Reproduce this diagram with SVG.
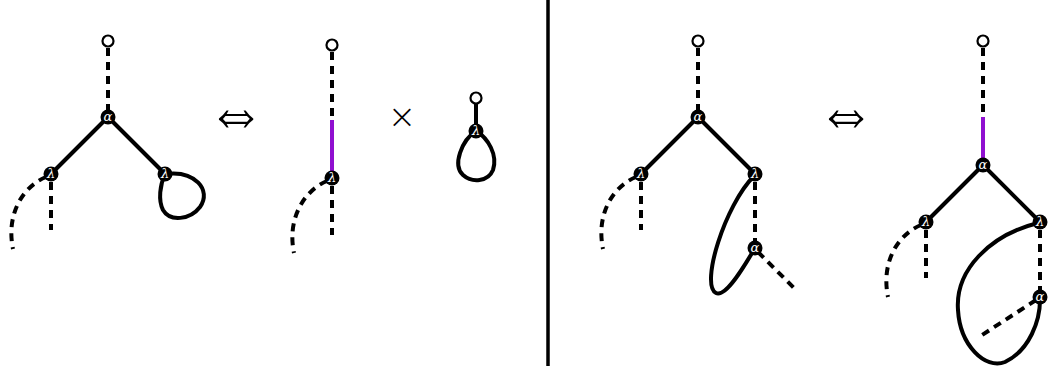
<svg xmlns="http://www.w3.org/2000/svg" width="1050" height="376" viewBox="0 0 1050 376">
<style>
.s{fill:none;stroke:#000;stroke-width:4;stroke-linecap:butt}
.d{fill:none;stroke:#000;stroke-width:4;stroke-dasharray:8 6}
.p{fill:none;stroke:#9010d0;stroke-width:4}
.o{fill:#fff;stroke:#000;stroke-width:2.2}
.n{fill:#000}
.t{fill:#fff;font-family:"DejaVu Serif",serif;font-style:italic;font-size:13px;text-anchor:middle}
.op{font-family:"DejaVu Sans",sans-serif;font-weight:200;text-anchor:middle;fill:#000}
</style>
<rect width="1050" height="376" fill="#fff"/>
<g id="connectors">
  <!-- panel 1 -->
  <line class="d" x1="108" y1="48" x2="108" y2="112"/>
  <line class="s" x1="108" y1="117" x2="51" y2="174"/>
  <line class="s" x1="108" y1="117" x2="165" y2="174"/>
  <line class="d" x1="51" y1="182" x2="51" y2="230"/>
  <path class="d" d="M46,177 C22,187 6,215 13,249"/>
  <path class="s" d="M165,174 C195,170 212,190 200,207 C190,220 170,222 163,210 C158,200 160,185 165,174"/>
  <!-- panel 2 -->
  <line class="d" x1="332" y1="52" x2="332" y2="120"/>
  <line class="p" x1="332" y1="120" x2="332" y2="173"/>
  <line class="d" x1="332" y1="186" x2="332" y2="235"/>
  <path class="d" d="M327,181 C303,191 287,220 294,253"/>
  <line class="s" x1="476" y1="104" x2="476" y2="131"/>
  <path class="s" d="M476,131 C462,140 452,165 463,175 C472,183 488,182 493,170 C498,155 488,138 476,131"/>
  <!-- panel 3 -->
  <line class="d" x1="698" y1="48" x2="698" y2="112"/>
  <line class="s" x1="698" y1="117" x2="641" y2="174"/>
  <line class="s" x1="698" y1="117" x2="755" y2="174"/>
  <line class="d" x1="641" y1="182" x2="641" y2="230"/>
  <path class="d" d="M636,177 C612,187 596,215 603,249"/>
  <line class="d" x1="755" y1="182" x2="755" y2="244"/>
  <path class="s" d="M754,176 C725,205 700,285 716,293 C726,298 745,265 755,248"/>
  <line class="d" x1="758" y1="252" x2="795" y2="289"/>
  <!-- panel 4 -->
  <line class="d" x1="983" y1="48" x2="983" y2="117"/>
  <line class="p" x1="983" y1="117" x2="983" y2="160"/>
  <line class="s" x1="983" y1="165" x2="926" y2="222"/>
  <line class="s" x1="983" y1="165" x2="1040" y2="222"/>
  <line class="d" x1="926" y1="230" x2="926" y2="278"/>
  <path class="d" d="M921,225 C897,235 881,263 888,297"/>
  <line class="d" x1="1040" y1="230" x2="1040" y2="292"/>
  <path class="s" d="M1038,223 C990,235 955,270 958,310 C960,345 985,370 1005,362 C1030,350 1040,320 1040,300"/>
  <line class="d" x1="1036" y1="300" x2="982" y2="335"/>
  <!-- divider -->
  <line x1="548" y1="0" x2="548" y2="366" stroke="#000" stroke-width="3.5"/>
</g>
<g id="ops">
  <text class="op" transform="translate(236,136) scale(1,1.25)" style="font-size:58px">⇔</text>
  <text class="op" x="402" y="128" style="font-size:34px">×</text>
  <text class="op" transform="translate(846,136) scale(1,1.25)" style="font-size:58px">⇔</text>
</g>
<g id="n1r"><circle class="o" cx="108" cy="41" r="5.5"/></g>
<g id="n1a"><circle class="n" cx="108" cy="117" r="7.5"/><text class="t" x="108" y="121">α</text></g>
<g id="n1l"><circle class="n" cx="51" cy="174" r="7.5"/><text class="t" x="51" y="178">λ</text></g>
<g id="n1rr"><circle class="n" cx="165" cy="174" r="7.5"/><text class="t" x="165" y="178">λ</text></g>
<g id="n2r"><circle class="o" cx="332" cy="45" r="5.5"/></g>
<g id="n2l"><circle class="n" cx="332" cy="178" r="7.5"/><text class="t" x="332" y="182">λ</text></g>
<g id="n2o"><circle class="o" cx="476" cy="98" r="5.5"/></g>
<g id="n2s"><circle class="n" cx="476" cy="131" r="7.5"/><text class="t" x="476" y="135">λ</text></g>
<g id="n3r"><circle class="o" cx="698" cy="41" r="5.5"/></g>
<g id="n3a"><circle class="n" cx="698" cy="117" r="7.5"/><text class="t" x="698" y="121">α</text></g>
<g id="n3l"><circle class="n" cx="641" cy="174" r="7.5"/><text class="t" x="641" y="178">λ</text></g>
<g id="n3rr"><circle class="n" cx="755" cy="174" r="7.5"/><text class="t" x="755" y="178">λ</text></g>
<g id="n3b"><circle class="n" cx="755" cy="248" r="7.5"/><text class="t" x="755" y="252">α</text></g>
<g id="n4r"><circle class="o" cx="983" cy="41" r="5.5"/></g>
<g id="n4a"><circle class="n" cx="983" cy="165" r="7.5"/><text class="t" x="983" y="169">α</text></g>
<g id="n4l"><circle class="n" cx="926" cy="222" r="7.5"/><text class="t" x="926" y="226">λ</text></g>
<g id="n4rr"><circle class="n" cx="1040" cy="222" r="7.5"/><text class="t" x="1040" y="226">λ</text></g>
<g id="n4b"><circle class="n" cx="1040" cy="297" r="7.5"/><text class="t" x="1040" y="301">α</text></g>
</svg>
